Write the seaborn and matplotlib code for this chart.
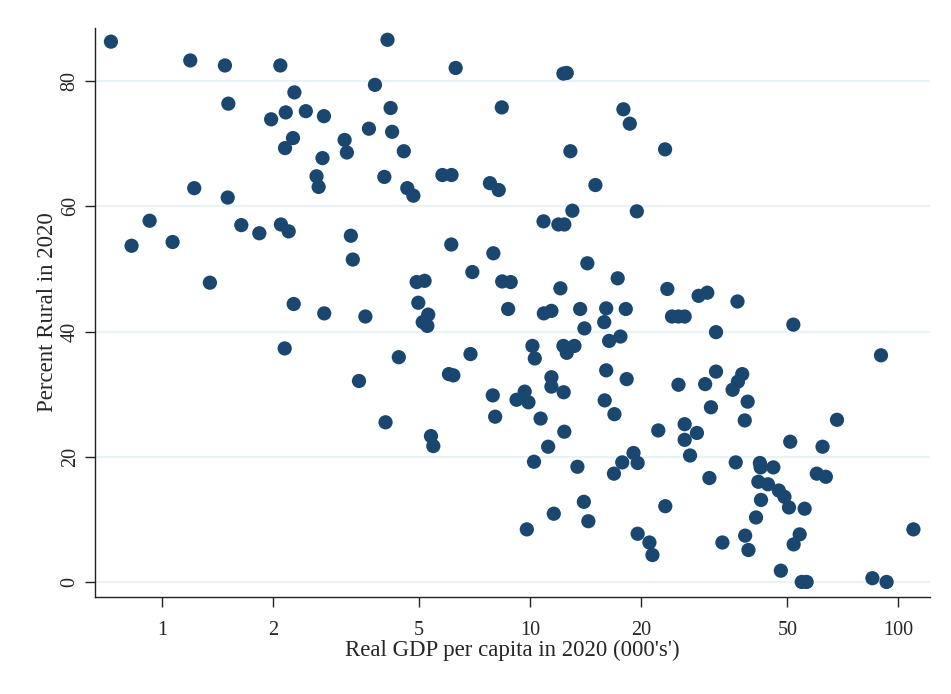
import matplotlib
matplotlib.use("Agg")
import matplotlib.pyplot as plt
import seaborn as sns
import pandas as pd
from matplotlib.ticker import FixedLocator, NullLocator

# 数据：人均实际GDP（千美元）与农村人口比例
gdp = [
    0.727, 1.194, 1.483, 2.097, 2.29, 1.515, 1.98, 2.17, 2.46, 2.27,
    2.16, 1.224, 1.509, 0.926, 0.827, 1.069, 1.643, 1.839, 2.105, 2.21,
    1.35, 2.28, 2.155, 4.10, 6.28, 3.79, 2.755, 4.18, 8.38, 3.65,
    4.22, 3.135, 3.18, 2.73, 4.54, 2.63, 2.665, 4.02, 4.64, 4.82,
    5.78, 6.12, 7.78, 8.22, 3.26, 3.30, 6.11, 7.95, 6.97, 4.92,
    5.17, 8.40, 8.86, 4.97, 8.72, 2.76, 3.57, 5.29, 5.11, 5.26,
    4.40, 6.89, 3.43, 6.02, 6.19, 7.92, 8.04, 4.05, 5.38, 5.46,
    12.32, 12.58, 17.93, 18.66, 12.87, 23.27, 15.05, 13.03, 19.5, 10.88,
    11.94, 12.39, 14.31, 17.3, 12.09, 23.6, 28.7, 30.3, 10.9, 11.43,
    13.68, 16.1, 18.2, 24.3, 25.3, 26.3, 15.9, 14.05, 32.0, 10.15,
    10.3, 12.32, 12.58, 13.2, 16.4, 17.6, 16.1, 18.3, 11.43, 11.43,
    12.34, 9.67, 9.19, 9.9, 32.0, 25.3, 29.9, 31.0, 15.95, 16.95,
    10.68, 12.39, 22.3, 26.3, 28.4, 26.3, 11.2, 10.25, 13.45, 19.1,
    17.8, 19.6, 16.9, 27.2, 30.7, 14.0, 14.4, 11.6, 9.8, 23.3,
    19.6, 21.1, 21.5, 36.6, 51.9, 89.8, 37.7, 36.7, 35.5, 39.0,
    38.3, 68.2, 50.9, 62.3, 36.2, 42.1, 42.3, 45.8, 60.1, 63.6,
    41.7, 44.3, 47.4, 49.1, 42.4, 50.5, 55.7, 41.1, 110.0, 54.0,
    52.0, 33.3, 38.4, 39.2, 48.0, 54.7, 56.4, 85.1, 93.0,
]
rural = [
    86.3, 83.3, 82.5, 82.5, 78.2, 76.4, 73.9, 75.0, 75.2, 70.9,
    69.3, 62.9, 61.4, 57.7, 53.7, 54.3, 57.0, 55.7, 57.1, 56.0,
    47.8, 44.4, 37.3, 86.6, 82.1, 79.4, 74.4, 75.7, 75.8, 72.4,
    71.9, 70.6, 68.6, 67.7, 68.8, 64.8, 63.1, 64.7, 62.9, 61.7,
    65.0, 65.0, 63.7, 62.6, 55.3, 51.5, 53.9, 52.5, 49.5, 47.9,
    48.1, 48.0, 47.9, 44.6, 43.6, 42.9, 42.4, 42.7, 41.5, 40.9,
    35.9, 36.4, 32.1, 33.2, 33.0, 29.8, 26.4, 25.5, 23.3, 21.7,
    81.2, 81.3, 75.5, 73.2, 68.8, 69.1, 63.4, 59.3, 59.2, 57.6,
    57.1, 57.1, 50.9, 48.5, 46.9, 46.8, 45.7, 46.2, 42.9, 43.3,
    43.6, 43.7, 43.6, 42.4, 42.4, 42.4, 41.5, 40.5, 39.9, 37.7,
    35.7, 37.7, 36.6, 37.7, 38.5, 39.2, 33.8, 32.4, 32.7, 31.2,
    30.3, 30.4, 29.1, 28.7, 33.6, 31.5, 31.6, 27.9, 29.0, 26.8,
    26.1, 24.0, 24.2, 25.2, 23.8, 22.7, 21.6, 19.2, 18.4, 20.6,
    19.1, 19.0, 17.3, 20.2, 16.6, 12.8, 9.7, 10.9, 8.4, 12.1,
    7.7, 6.3, 4.3, 44.8, 41.1, 36.2, 33.2, 32.0, 30.7, 28.8,
    25.8, 25.9, 22.4, 21.6, 19.1, 19.0, 18.3, 18.3, 17.3, 16.8,
    16.0, 15.6, 14.6, 13.6, 13.1, 11.9, 11.7, 10.3, 8.4, 7.6,
    6.0, 6.3, 7.4, 5.1, 1.8, 0.0, 0.0, 0.6, 0.0,
]

x_ticks = [1, 2, 5, 10, 20, 50, 100]
y_ticks = [0, 20, 40, 60, 80]

df = pd.DataFrame({"gdp": gdp, "rural": rural})

sns.set_style("white")
plt.rcParams['font.family'] = ['Liberation Serif', 'DejaVu Serif']

fig = plt.figure(figsize=(9.51, 6.94), dpi=100)
ax = fig.add_axes([0.0999, 0.1398, 0.878, 0.820])

sns.scatterplot(data=df, x="gdp", y="rural", ax=ax, color="#1a476f",
                s=105, edgecolor="none", linewidth=0, zorder=3)

ax.set_xscale("log")
ax.set_xlim(0.658, 122)
ax.set_ylim(-2.4, 88.5)

ax.xaxis.set_major_locator(FixedLocator(x_ticks))
ax.xaxis.set_minor_locator(NullLocator())
ax.set_xticklabels([str(t) for t in x_ticks])
ax.set_yticks(y_ticks)
ax.set_yticklabels([str(t) for t in y_ticks], rotation=90, va="center")

# 浅色水平网格线
for yv in y_ticks:
    ax.axhline(yv, color="#eaf2f3", linewidth=1.6, zorder=1)

for side in ["top", "right"]:
    ax.spines[side].set_visible(False)
for side in ["left", "bottom"]:
    ax.spines[side].set_color("#222222")
    ax.spines[side].set_linewidth(1.0)

ax.tick_params(axis="both", direction="out", length=7, width=1,
               color="#222222", labelsize=14.5, pad=5, left=True, bottom=True)
ax.tick_params(axis="x", pad=10)
ax.tick_params(axis="y", pad=4)

ax.set_xlabel("Real GDP per capita in 2020 (000's')", fontsize=16.5, labelpad=0)
ax.set_ylabel("Percent Rural in 2020", fontsize=16.5, labelpad=2)

fig.savefig("out.png", dpi=100)
